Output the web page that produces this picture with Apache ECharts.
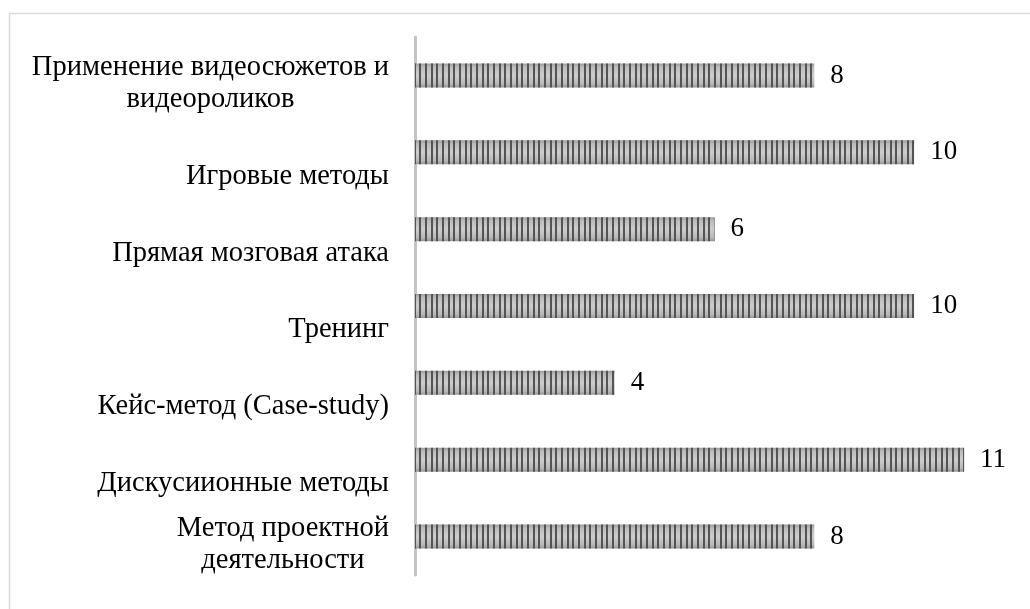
<!DOCTYPE html>
<html>
<head>
<meta charset="utf-8">
<script src="https://cdn.jsdelivr.net/npm/echarts@6/dist/echarts.min.js"></script>
<style>
html,body{margin:0;padding:0;background:#fff;}
#chart{width:1030px;height:609px;}
</style>
</head>
<body>
<div id="chart"></div>
<script>
var categories = [
  'Применение видеосюжетов и\nвидеороликов',
  'Игровые методы',
  'Прямая мозговая атака',
  'Тренинг',
  'Кейс-метод (Case-study)',
  'Дискусиионные методы',
  'Метод проектной\nдеятельности'
];
var values = [8, 10, 6, 10, 4, 11, 8];

var FONT = "'Liberation Serif', 'Times New Roman', serif";
var LFS = 28.5;

// stripe pattern (vertical narrow lines)
var pc = document.createElement('canvas');
pc.width = 17; pc.height = 4;
var pctx = pc.getContext('2d');
pctx.fillStyle = 'rgba(78,78,78,0.95)';
[0, 6, 11].forEach(function (x) { pctx.fillRect(x, 0, 2, 4); });

var chart = echarts.init(document.getElementById('chart'), null, {renderer: 'canvas'});

chart.setOption({
  backgroundColor: '#fff',
  animation: false,
  graphic: [{
    type: 'rect',
    shape: {x: 9.5, y: 13.5, width: 1040, height: 620},
    style: {fill: 'none', stroke: '#d9d9d9', lineWidth: 1.5},
    silent: true
  }],
  grid: {left: 415, right: 16, top: 37, bottom: 34, containLabel: false},
  xAxis: {
    type: 'value', min: 0, max: 12,
    show: false,
    splitLine: {show: false}
  },
  yAxis: {
    type: 'category',
    data: categories,
    inverse: true,
    axisLine: {show: true, lineStyle: {color: '#c4c4c4', width: 3}},
    axisTick: {show: false},
    axisLabel: {
      margin: 26,
      align: 'right',
      fontFamily: FONT,
      fontSize: LFS,
      color: '#000',
      formatter: function (v) {
        var lines = v.split('\n');
        if (lines.length === 1) {
          return '{e1| }\n{s|' + v + '}';
        }
        return '{e2| }\n{t|' + lines[0] + '}\n{t|' + lines[1] + '}';
      },
      rich: {
        e1: {fontSize: 10, lineHeight: 48},
        e2: {fontSize: 10, lineHeight: 16},
        s: {fontFamily: FONT, fontSize: LFS, color: '#000', lineHeight: 32},
        t: {fontFamily: FONT, fontSize: LFS, color: '#000', align: 'center', lineHeight: 32}
      }
    }
  },
  series: [
    {
      type: 'bar',
      data: values,
      barWidth: 24,
      silent: true,
      itemStyle: {
        color: {
          type: 'linear', x: 0, y: 0, x2: 0, y2: 1,
          colorStops: [
            {offset: 0, color: '#9c9c9c'},
            {offset: 0.15, color: '#bcbcbc'},
            {offset: 0.5, color: '#cdcdcd'},
            {offset: 0.85, color: '#b8b8b8'},
            {offset: 1, color: '#969696'}
          ]
        }
      }
    },
    {
      type: 'bar',
      data: values,
      barWidth: 24,
      barGap: '-100%',
      silent: true,
      itemStyle: {color: {image: pc, repeat: 'repeat'}},
      label: {
        show: true,
        position: 'right',
        distance: 16,
        fontFamily: FONT,
        fontSize: 27,
        color: '#000'
      }
    }
  ]
});
</script>
</body>
</html>
